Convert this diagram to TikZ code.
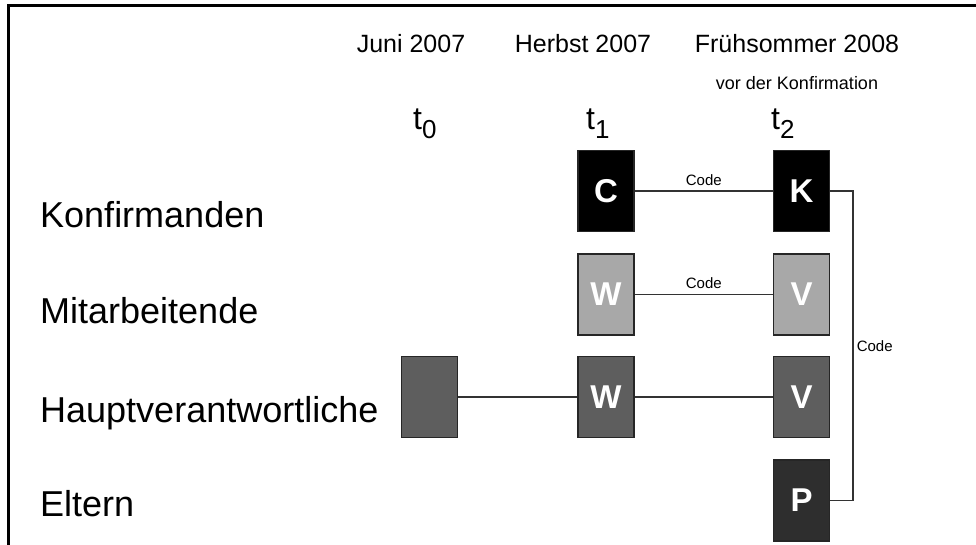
\documentclass[tikz,border=0pt]{standalone}
\usepackage{fontspec}
\setmainfont{Liberation Sans}
\usepackage{xcolor}
\usepackage{tikz}
\usetikzlibrary{positioning}

\newcommand{\tlab}[1]{t\raisebox{-9pt}{\fontsize{26}{26}\selectfont #1}}

\begin{document}
\begin{tikzpicture}[x=1pt, y=-1pt,
    box/.style={draw=black!85, line width=1.2pt, rectangle, minimum width=56pt, minimum height=81pt, inner sep=0pt, text=white, font=\fontsize{33}{33}\selectfont\bfseries},
    link/.style={draw=black!80, line width=1.3pt},
    group/.style={anchor=base west, inner sep=0pt, font=\fontsize{36}{36}\selectfont},
    when/.style={anchor=base, inner sep=0pt, font=\fontsize{25}{25}\selectfont},
    tstep/.style={anchor=base west, inner sep=0pt, font=\fontsize{32}{32}\selectfont},
    code/.style={inner sep=3pt, font=\fontsize{15}{15}\selectfont}]
    \useasboundingbox (0,0) rectangle (976,545);
    \draw[line width=3pt] (8,545) -- (8,6) -- (976,6);
    % time axis
    \node[when] (juni) at (411,53) {Juni 2007};
    \node[when] (herbst) at (583,53) {Herbst 2007};
    \node[when] (sommer) at (797,53) {Frühsommer 2008};
    \node[anchor=base, inner sep=0pt, font=\fontsize{18}{18}\selectfont] (vor) at (797,90) {vor der Konfirmation};
    \node[tstep] (t0) at (413,130) {\tlab{0}};
    \node[tstep] (t1) at (586,130) {\tlab{1}};
    \node[tstep] (t2) at (771,130) {\tlab{2}};
    % groups
    \node[group] (konf) at (40,228) {Konfirmanden};
    \node[group] (mitarb) at (40,323) {Mitarbeitende};
    \node[group] (haupt) at (40,422) {Hauptverantwortliche};
    \node[group] (eltern) at (40,516) {Eltern};
    % surveys
    \node[box, fill=black] (c) at (606,191) {C};
    \node[box, fill=black] (k) at (801.5,191) {K};
    \node[box, fill=black!34] (w1) at (606,294.5) {W};
    \node[box, fill=black!34] (v1) at (801.5,294.5) {V};
    \node[box, fill=black!63] (h0) at (429.5,397) {};
    \node[box, fill=black!63] (w2) at (606,397) {W};
    \node[box, fill=black!63] (v2) at (801.5,397) {V};
    \node[box, fill=black!82] (p) at (801.5,500.5) {P};
    % links
    \draw[link] (c) -- node[code, above=2pt] {Code} (k);
    \draw[link] (w1) -- node[code, above=2pt] {Code} (v1);
    \draw[link] (h0) -- (w2);
    \draw[link] (w2) -- (v2);
    \draw[link] (k.east) -- ++(23,0) |- (p.east) node[code, pos=0.25, right] {Code};
\end{tikzpicture}
\end{document}
